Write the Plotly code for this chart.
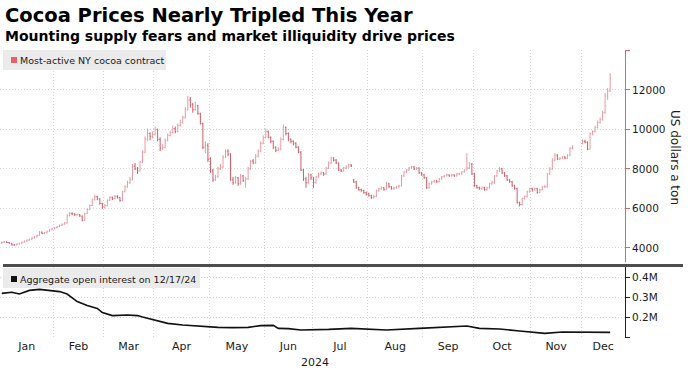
import pandas as pd
import plotly.graph_objects as go

# ---------------- text ----------------
TITLE = "Cocoa Prices Nearly Tripled This Year"
SUBTITLE = "Mounting supply fears and market illiquidity drive prices"
PRICE_LABEL = "Most-active NY cocoa contract"
OI_LABEL = "Aggregate open interest on 12/17/24"
PRICE_AXIS_TITLE = "US dollars a ton"
YEAR_LABEL = "2024"
MONTHS = ["Jan", "Feb", "Mar", "Apr", "May", "Jun", "Jul", "Aug", "Sep", "Oct", "Nov", "Dec"]

# ---------------- trading calendar ----------------
FIRST_DAY = "2024-01-02"
LAST_DAY = "2024-12-17"
HOLIDAYS = ["2024-01-15", "2024-02-19", "2024-03-29", "2024-05-27", "2024-06-19",
            "2024-07-04", "2024-09-02", "2024-11-28"]

# ---------------- daily price bars (US$/t) ----------------
price_open = [
    # Jan
    4230, 4290, 4310, 4280, 4240, 4160, 4150, 4200, 4240, 4290, 4350, 4400, 4440, 4500, 4560, 4640, 4800, 4730, 4780, 4850, 4920,
    # Feb
    4970, 5020, 5080, 5150, 5200, 5260, 5650, 5750, 5720, 5680, 5700, 5620, 5400, 5750, 5950, 6150, 6450, 6600, 6480, 6250,
    # Mar
    6050, 6150, 6420, 6550, 6500, 6620, 6550, 6400, 6850, 7100, 7300, 7450, 8150, 8000, 7900, 8350, 8850, 9500, 9800, 9650,
    # Apr
    9750, 10000, 9500, 9050, 9100, 9450, 9700, 9850, 10050, 9900, 10200, 10350, 10600, 11000, 11500, 11250, 11000, 11200, 10800, 10300, 9100, 9200,
    # May
    8500, 7900, 7450, 7600, 8000, 8100, 8600, 8900, 8750, 7450, 7300, 7550, 7250, 7650, 7400, 7500, 8000, 8400, 8300, 8650, 8900, 9300,
    # Jun
    9600, 9900, 9600, 9400, 9100, 8950, 9000, 9500, 10100, 9800, 9500, 9400, 9300, 9100, 8850, 7950, 7500, 7300, 7700,
    # Jul
    7550, 7300, 7600, 7750, 7800, 7750, 8050, 8300, 8550, 8450, 8300, 7950, 7900, 8050, 8100, 8200, 7450, 7350, 7050, 6950, 6900, 6800,
    # Aug
    6750, 6650, 6550, 6600, 6900, 7000, 7050, 6950, 7250, 7100, 7000, 7050, 7100, 7150, 7650, 7850, 7950, 8050, 8100, 8000, 8050, 7800,
    # Sep
    7700, 7550, 7050, 7250, 7350, 7400, 7350, 7500, 7600, 7650, 7700, 7650, 7700, 7650, 7750, 7750, 7850, 7950, 8050, 8250,
    # Oct
    7750, 7150, 7050, 7000, 7050, 6950, 7050, 7250, 7300, 7650, 7900, 8000, 7800, 7650, 7450, 7350, 7150, 7000, 6300, 6200, 6500, 6600, 6850,
    # Nov
    7000, 6950, 7000, 6800, 6950, 7100, 7100, 7750, 8000, 8450, 8700, 8500, 8550, 8600, 8550, 8700, 9050, None, None, None,
    # Dec
    9300, 9400, 9350, 9000, 9800, 9900, 10100, 10350, 10500, 10850, 11700, 11950,
]
price_high = [
    # Jan
    4330, 4350, 4330, 4300, 4250, 4200, 4230, 4270, 4320, 4380, 4430, 4480, 4540, 4600, 4680, 4860, 4830, 4810, 4880, 4960, 5010,
    # Feb
    5060, 5120, 5190, 5240, 5310, 5700, 5820, 5800, 5760, 5750, 5720, 5640, 5790, 6000, 6200, 6500, 6700, 6650, 6520, 6300,
    # Mar
    6220, 6460, 6620, 6600, 6680, 6660, 6580, 6900, 7180, 7400, 7600, 8250, 8300, 8100, 8420, 8950, 9650, 10050, 9850, 9900,
    # Apr
    10150, 10050, 9600, 9250, 9550, 9800, 9950, 10200, 10150, 10300, 10500, 10700, 11150, 11700, 11650, 11350, 11400, 11250, 10850, 10350, 9400, 9300,
    # May
    8600, 8000, 7700, 8100, 8250, 8700, 9000, 9000, 8800, 7600, 7650, 7600, 7750, 7700, 7600, 8100, 8450, 8500, 8750, 9000, 9400, 9700,
    # Jun
    10050, 9950, 9650, 9450, 9150, 9100, 9600, 10250, 10150, 9850, 9550, 9450, 9350, 9150, 8900, 8000, 7600, 7800, 7750,
    # Jul
    7600, 7650, 7820, 7880, 7850, 8100, 8380, 8620, 8600, 8500, 8320, 8000, 8100, 8180, 8280, 8250, 7500, 7400, 7100, 7000, 6950, 6850,
    # Aug
    6800, 6700, 6700, 6950, 7050, 7120, 7080, 7350, 7300, 7120, 7100, 7150, 7200, 7700, 7900, 8000, 8100, 8150, 8150, 8100, 8080, 7850,
    # Sep
    7750, 7600, 7300, 7400, 7450, 7450, 7550, 7650, 7700, 7750, 7720, 7750, 7720, 7800, 7820, 7900, 8000, 8800, 8350, 8300,
    # Oct
    7800, 7200, 7100, 7120, 7100, 7100, 7300, 7400, 7700, 7950, 8100, 8050, 7850, 7700, 7500, 7400, 7200, 7050, 6350, 6550, 6650, 6900, 7050,
    # Nov
    7050, 7050, 7050, 7000, 7150, 7200, 7800, 8100, 8550, 8800, 8750, 8600, 8650, 8650, 8750, 9100, 9200, None, None, None,
    # Dec
    9500, 9480, 9400, 9850, 9950, 10200, 10450, 10600, 10950, 11850, 12100, 12850,
]
price_low = [
    # Jan
    4200, 4260, 4250, 4210, 4130, 4110, 4140, 4180, 4220, 4270, 4320, 4380, 4420, 4480, 4540, 4620, 4700, 4700, 4750, 4820, 4900,
    # Feb
    4950, 5000, 5060, 5120, 5180, 5240, 5600, 5660, 5620, 5630, 5580, 5350, 5380, 5720, 5920, 6120, 6400, 6420, 6200, 5980,
    # Mar
    6000, 6100, 6380, 6430, 6460, 6500, 6350, 6380, 6820, 7050, 7250, 7420, 7950, 7750, 7880, 8300, 8800, 9400, 9450, 9550,
    # Apr
    9700, 9400, 8900, 8950, 9050, 9400, 9650, 9800, 9800, 9850, 10150, 10300, 10550, 10950, 11100, 10850, 10950, 10750, 10250, 9000, 8800, 8350,
    # May
    7800, 7350, 7400, 7550, 7950, 8050, 8550, 8650, 7400, 7200, 7250, 7150, 7200, 7350, 7050, 7450, 7950, 8250, 8250, 8600, 8850, 9250,
    # Jun
    9550, 9550, 9300, 9000, 8850, 8900, 8950, 9450, 9700, 9400, 9300, 9200, 9050, 8800, 7900, 7400, 7050, 7250, 7450,
    # Jul
    7050, 7250, 7550, 7700, 7650, 7700, 8000, 8250, 8380, 8250, 7900, 7850, 7880, 8000, 8080, 8100, 7300, 7000, 6900, 6850, 6750, 6650,
    # Aug
    6600, 6480, 6500, 6580, 6850, 6950, 6900, 6920, 7050, 6950, 6950, 7000, 7050, 7120, 7600, 7800, 7900, 8000, 7950, 7950, 7750, 7650,
    # Sep
    7500, 7000, 7000, 7200, 7300, 7300, 7320, 7450, 7580, 7620, 7600, 7620, 7600, 7620, 7680, 7700, 7820, 7950, 8000, 7700,
    # Oct
    7100, 7000, 6950, 6950, 6900, 6900, 7000, 7200, 7250, 7600, 7850, 7750, 7600, 7400, 7300, 7100, 6950, 6250, 6100, 6150, 6450, 6550, 6800,
    # Nov
    6850, 6900, 6750, 6780, 6900, 7050, 7050, 7700, 7950, 8400, 8450, 8450, 8500, 8500, 8500, 8650, 9000, None, None, None,
    # Dec
    9250, 9300, 8950, 8980, 9700, 9850, 10050, 10300, 10450, 10800, 11500, 11900,
]
price_close = [
    # Jan
    4290, 4310, 4280, 4240, 4160, 4150, 4200, 4240, 4290, 4350, 4400, 4440, 4500, 4560, 4640, 4800, 4730, 4780, 4850, 4920, 4970,
    # Feb
    5020, 5080, 5150, 5200, 5260, 5650, 5750, 5720, 5680, 5700, 5620, 5400, 5750, 5950, 6150, 6450, 6600, 6480, 6250, 6050,
    # Mar
    6150, 6420, 6550, 6500, 6620, 6550, 6400, 6850, 7100, 7300, 7450, 8150, 8000, 7900, 8350, 8850, 9500, 9800, 9650, 9750,
    # Apr
    10000, 9500, 9050, 9100, 9450, 9700, 9850, 10050, 9900, 10200, 10350, 10600, 11000, 11500, 11250, 11000, 11200, 10800, 10300, 9100, 9200, 8500,
    # May
    7900, 7450, 7600, 8000, 8100, 8600, 8900, 8750, 7450, 7300, 7550, 7250, 7650, 7400, 7500, 8000, 8400, 8300, 8650, 8900, 9300, 9600,
    # Jun
    9900, 9600, 9400, 9100, 8950, 9000, 9500, 10100, 9800, 9500, 9400, 9300, 9100, 8850, 7950, 7500, 7300, 7700, 7550,
    # Jul
    7300, 7600, 7750, 7800, 7750, 8050, 8300, 8550, 8450, 8300, 7950, 7900, 8050, 8100, 8200, 8150, 7350, 7050, 6950, 6900, 6800, 6750,
    # Aug
    6650, 6550, 6600, 6900, 7000, 7050, 6950, 7250, 7100, 7000, 7050, 7100, 7150, 7650, 7850, 7950, 8050, 8100, 8000, 8050, 7800, 7700,
    # Sep
    7550, 7050, 7250, 7350, 7400, 7350, 7500, 7600, 7650, 7700, 7650, 7700, 7650, 7750, 7750, 7850, 7950, 8050, 8250, 7750,
    # Oct
    7150, 7050, 7000, 7050, 6950, 7050, 7250, 7300, 7650, 7900, 8000, 7800, 7650, 7450, 7350, 7150, 7000, 6300, 6200, 6500, 6600, 6850, 7000,
    # Nov
    6950, 7000, 6800, 6950, 7100, 7100, 7750, 8000, 8450, 8700, 8500, 8550, 8600, 8550, 8700, 9050, 9100, None, None, None,
    # Dec
    9400, 9350, 9000, 9800, 9900, 10100, 10350, 10500, 10850, 11700, 11950, 12600,
]

# ---------------- aggregate open interest (contracts) ----------------
oi_dates = ["2024-01-02", "2024-01-08", "2024-01-11", "2024-01-18", "2024-01-24", "2024-01-30",
            "2024-02-05", "2024-02-08", "2024-02-14", "2024-02-21", "2024-02-27", "2024-02-29",
            "2024-03-06", "2024-03-14", "2024-03-20", "2024-03-22", "2024-03-28",
            "2024-04-08", "2024-04-16", "2024-04-24",
            "2024-05-06", "2024-05-14", "2024-05-22", "2024-05-30",
            "2024-06-06", "2024-06-10", "2024-06-14", "2024-06-24",
            "2024-07-02", "2024-07-10", "2024-07-23",
            "2024-08-12", "2024-08-29",
            "2024-09-16", "2024-09-26",
            "2024-10-03", "2024-10-15", "2024-10-25",
            "2024-11-08", "2024-11-19",
            "2024-12-04", "2024-12-17"]
oi_values = [318000, 324000, 315000, 333000, 338000, 333000,
             327000, 315000, 277000, 257000, 243000, 222000,
             207000, 210000, 207000, 200000, 188000,
             168000, 160000, 155000,
             148000, 147000, 148000, 157000,
             158000, 143000, 142000, 135000,
             135000, 138000, 143000,
             135000, 143000,
             152000, 155000,
             143000, 140000, 130000,
             118000, 125000,
             125000, 123000]

price_ticks = [4000, 6000, 8000, 10000, 12000, 14000]
price_tick_text = ["4000", "6000", "8000", "10000", "12000", ""]
oi_ticks = [100000, 200000, 300000, 400000]
oi_tick_text = ["", "0.2M", "0.3M", "0.4M"]

# ---------------- styles / geometry ----------------
W, H = 691, 370
ML, MR, MT, MB = 0, 66, 50, 32
PW = W - ML - MR
PH = H - MT - MB
FONT = "DejaVu Sans"
BAR_UP = "#e99aa3"
BAR_DOWN = "#cc5b67"
AXIS_RED = "#e0646f"
KEY_RED = "#e8606a"
GRID = "#d6d6d6"
GRID_DASH = "1px,2px"
TEXT = "#1a1a1a"
X_RANGE = [-0.7, 247.9]
PRICE_RANGE = [3290, 14025]
OI_RANGE = [95000, 450000]


def fx(px):
    return (px - ML) / PW


def fy(py):
    return (H - MB - py) / PH


# trading-day axis (one slot per session)
days = pd.bdate_range(FIRST_DAY, LAST_DAY)
days = days[~days.isin(pd.to_datetime(HOLIDAYS))]
n = len(days)
assert n == len(price_close) == len(price_open) == len(price_high) == len(price_low), (n, len(price_close))

valid = [i for i in range(n) if price_close[i] is not None]

month_of = [d.month for d in days]
starts = [i for i in range(n) if i == 0 or month_of[i] != month_of[i - 1]]
bounds = [s - 0.5 for s in starts[1:]]
edges = [X_RANGE[0]] + bounds + [X_RANGE[1]]
label_pos = [(edges[k] + edges[k + 1]) / 2 for k in range(len(edges) - 1)]

oi_x = list(days.get_indexer(pd.to_datetime(oi_dates), method="nearest"))

fig = go.Figure()
fig.add_trace(go.Ohlc(
    x=valid,
    open=[price_open[i] for i in valid],
    high=[price_high[i] for i in valid],
    low=[price_low[i] for i in valid],
    close=[price_close[i] for i in valid],
    increasing=dict(line=dict(color=BAR_UP, width=1)),
    decreasing=dict(line=dict(color=BAR_DOWN, width=1)),
    tickwidth=0.35,
    xaxis="x2", yaxis="y",
    hoverinfo="skip",
))
fig.add_trace(go.Scatter(
    x=oi_x, y=oi_values, mode="lines",
    line=dict(color="#111111", width=1.6),
    xaxis="x", yaxis="y2", hoverinfo="skip",
))

minor_grid = dict(tickmode="array", tickvals=bounds, showgrid=True, gridcolor=GRID,
                  griddash=GRID_DASH, gridwidth=1, ticks="")

fig.update_layout(
    width=W, height=H, autosize=False,
    margin=dict(l=ML, r=MR, t=MT, b=MB, pad=0),
    paper_bgcolor="white", plot_bgcolor="white",
    showlegend=False,
    hovermode=False,
    font=dict(family=FONT, color=TEXT, size=10),
    xaxis=dict(domain=[0, 1], anchor="y2", range=X_RANGE, tickmode="array",
               tickvals=label_pos, ticktext=MONTHS, ticks="", showgrid=False,
               zeroline=False, showline=False, automargin=False,
               tickfont=dict(size=11, color=TEXT, family=FONT),
               minor=minor_grid, rangeslider=dict(visible=False)),
    xaxis2=dict(domain=[0, 1], anchor="y", matches="x", range=X_RANGE, tickmode="array",
                tickvals=label_pos, showticklabels=False, ticks="", showgrid=False,
                zeroline=False, showline=False, automargin=False,
                minor=minor_grid, rangeslider=dict(visible=False)),
    yaxis=dict(domain=[fy(262), 1], anchor="x2", side="right", range=PRICE_RANGE,
               tickmode="array", tickvals=price_ticks, ticktext=price_tick_text,
               showline=True, linecolor=AXIS_RED, linewidth=1,
               ticks="outside", ticklen=4, tickcolor=AXIS_RED, tickwidth=1,
               showgrid=True, gridcolor=GRID, griddash=GRID_DASH, zeroline=False,
               automargin=False, tickfont=dict(size=10.5, color=TEXT, family=FONT)),
    yaxis2=dict(domain=[0, fy(267)], anchor="x", side="right", range=OI_RANGE,
                tickmode="array", tickvals=oi_ticks, ticktext=oi_tick_text,
                showline=True, linecolor="#222222", linewidth=1,
                ticks="outside", ticklen=4, tickcolor="#222222", tickwidth=1,
                showgrid=True, gridcolor=GRID, griddash=GRID_DASH, zeroline=False,
                automargin=False, tickfont=dict(size=10.5, color=TEXT, family=FONT)),
)

shapes = [
    # key boxes
    dict(type="rect", xref="paper", yref="paper", x0=fx(3), x1=fx(166), y0=fy(70), y1=fy(50),
         fillcolor="#ebebeb", line=dict(width=0), layer="above"),
    dict(type="rect", xref="paper", yref="paper", x0=fx(11), x1=fx(17), y0=fy(63), y1=fy(57),
         fillcolor=KEY_RED, line=dict(width=0), layer="above"),
    dict(type="rect", xref="paper", yref="paper", x0=fx(3), x1=fx(200), y0=fy(288), y1=fy(268),
         fillcolor="#ebebeb", line=dict(width=0), layer="above"),
    dict(type="rect", xref="paper", yref="paper", x0=fx(11), x1=fx(17), y0=fy(282), y1=fy(276),
         fillcolor="#111111", line=dict(width=0), layer="above"),
    # panel separator
    dict(type="line", xref="paper", yref="paper", x0=fx(3), x1=fx(683), y0=fy(265.5), y1=fy(265.5),
         line=dict(color="#4d4d4d", width=3), layer="above"),
]
fig.update_layout(shapes=shapes)

annotations = [
    dict(text="<b>" + TITLE + "</b>", x=fx(3), y=fy(15), xanchor="left", yanchor="middle",
         font=dict(size=19.5, color="#000000", family=FONT)),
    dict(text="<b>" + SUBTITLE + "</b>", x=fx(3), y=fy(36), xanchor="left", yanchor="middle",
         font=dict(size=14, color="#000000", family=FONT)),
    dict(text=PRICE_LABEL, x=fx(18), y=fy(60), xanchor="left", yanchor="middle",
         font=dict(size=9.5, color=TEXT, family=FONT)),
    dict(text=OI_LABEL, x=fx(18), y=fy(279), xanchor="left", yanchor="middle",
         font=dict(size=9.5, color=TEXT, family=FONT)),
    dict(text=PRICE_AXIS_TITLE, x=fx(675), y=fy(157), xanchor="center", yanchor="middle",
         textangle=90, font=dict(size=12, color=TEXT, family=FONT)),
    dict(text=YEAR_LABEL, x=fx(315), y=fy(362), xanchor="center", yanchor="middle",
         font=dict(size=11, color=TEXT, family=FONT)),
]
for a in annotations:
    a.update(xref="paper", yref="paper", showarrow=False)
fig.update_layout(annotations=annotations)

# the page's default 8px body margin would offset the whole figure; remove it
fig.write_html("out.html", config={"displayModeBar": False, "staticPlot": True},
               post_script="document.body.style.margin='0px';")
